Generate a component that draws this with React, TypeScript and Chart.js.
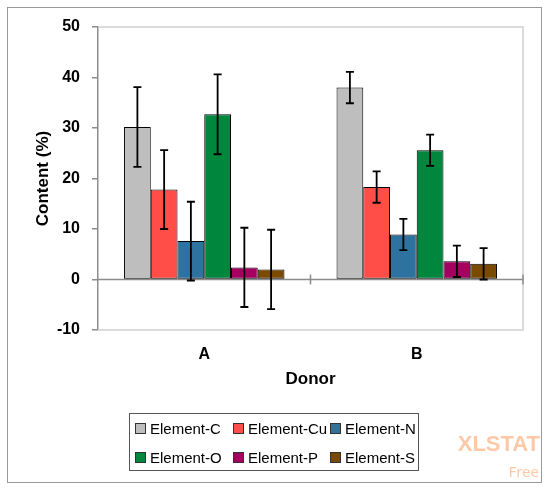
import { useEffect, useRef } from 'react';
import { Chart, registerables } from 'chart.js';

Chart.register(...registerables);

const donors = ['A', 'B'];
const elements = ['Element-C', 'Element-Cu', 'Element-N', 'Element-O', 'Element-P', 'Element-S'];
const colors = ['#BEBEBE', '#FF4D47', '#2E73A0', '#00873E', '#A50061', '#7A4A00'];
// content (%) per element, one value per donor
const contentC = [30.2, 38.0];
const contentCu = [17.8, 18.3];
const contentN = [7.6, 8.9];
const contentO = [32.7, 25.6];
const contentP = [2.4, 3.6];
const contentS = [2.0, 3.1];
// half-length of error bars
const errC = [7.9, 3.1];
const errCu = [7.8, 3.1];
const errN = [7.8, 3.1];
const errO = [7.9, 3.1];
const errP = [7.85, 3.1];
const errS = [7.85, 3.1];

const values = [contentC, contentCu, contentN, contentO, contentP, contentS];
const errors = [errC, errCu, errN, errO, errP, errS];

const FONT = "'Liberation Sans', Arial, sans-serif";

const framePlugin = {
  id: 'frame',
  beforeDatasetsDraw(chart: any) {
    const { ctx, chartArea: a, scales } = chart;
    ctx.save();
    ctx.strokeStyle = '#d0d0d0';
    ctx.lineWidth = 1.5;
    ctx.beginPath();
    ctx.moveTo(a.left, a.top);
    ctx.lineTo(a.right, a.top);
    ctx.lineTo(a.right, a.bottom);
    ctx.lineTo(a.left, a.bottom);
    ctx.stroke();
    const y0 = scales.y.getPixelForValue(0);
    ctx.strokeStyle = '#8c8c8c';
    ctx.beginPath();
    ctx.moveTo(a.left, y0);
    ctx.lineTo(a.right, y0);
    const step = (a.right - a.left) / donors.length;
    for (let i = 1; i <= donors.length; i++) {
      const x = a.left + step * i;
      ctx.moveTo(x, y0 - 5);
      ctx.lineTo(x, y0 + 5);
    }
    ctx.stroke();
    ctx.restore();
  },
  afterDatasetsDraw(chart: any) {
    const { ctx, scales } = chart;
    ctx.save();
    ctx.strokeStyle = '#000';
    ctx.lineWidth = 1.8;
    chart.data.datasets.forEach((ds: any, di: number) => {
      const meta = chart.getDatasetMeta(di);
      meta.data.forEach((bar: any, i: number) => {
        const v = ds.data[i];
        const e = errors[di][i];
        const yt = scales.y.getPixelForValue(v + e);
        const yb = scales.y.getPixelForValue(v - e);
        const x = bar.x;
        ctx.beginPath();
        ctx.moveTo(x, yt);
        ctx.lineTo(x, yb);
        ctx.moveTo(x - 4, yt);
        ctx.lineTo(x + 4, yt);
        ctx.moveTo(x - 4, yb);
        ctx.lineTo(x + 4, yb);
        ctx.stroke();
      });
    });
    ctx.restore();
  },
};

export default function App() {
  const canvasRef = useRef<HTMLCanvasElement | null>(null);
  const chartRef = useRef<Chart | null>(null);

  useEffect(() => {
    if (!canvasRef.current) return;
    if (chartRef.current) chartRef.current.destroy();

    chartRef.current = new Chart(canvasRef.current, {
      type: 'bar',
      data: {
        labels: donors,
        datasets: elements.map((name, i) => ({
          label: name,
          data: values[i],
          backgroundColor: colors[i],
          borderColor: '#000',
          borderWidth: 1,
          borderSkipped: false,
          categoryPercentage: 0.755,
          barPercentage: 1,
        })),
      },
      options: {
        responsive: false,
        animation: false,
        layout: { padding: { left: 0, right: 27, top: 27, bottom: 100 } },
        plugins: {
          legend: { display: false },
          tooltip: { enabled: false },
        },
        scales: {
          x: {
            afterFit: (scale: any) => {
              scale.height = 60;
            },
            grid: { display: false, tickLength: 8 },
            border: { display: false },
            ticks: { color: '#000', font: { family: FONT, size: 16, weight: 'bold' }, padding: 7 },
            title: {
              display: true,
              text: 'Donor',
              color: '#000',
              font: { family: FONT, size: 17, weight: 'bold' },
              padding: { top: 0, bottom: 0 },
            },
          },
          y: {
            min: -10,
            max: 50,
            afterFit: (scale: any) => {
              scale.width = 98;
            },
            ticks: {
              stepSize: 10,
              color: '#000',
              font: { family: FONT, size: 16, weight: 'bold' },
              padding: 12,
            },
            grid: {
              drawOnChartArea: false,
              tickLength: 6,
              tickColor: '#8c8c8c',
              lineWidth: 1.5,
            },
            border: { display: true, color: '#8c8c8c', width: 1.5 },
            title: {
              display: true,
              text: 'Content (%)',
              color: '#000',
              font: { family: FONT, size: 17, weight: 'bold' },
              padding: { top: 33, bottom: 0 },
            },
          },
        },
      },
      plugins: [framePlugin],
    });

    return () => {
      if (chartRef.current) {
        chartRef.current.destroy();
        chartRef.current = null;
      }
    };
  }, []);

  return (
    <div style={{ position: 'absolute', left: 0, top: 0, width: 550, height: 490, background: '#fff', fontFamily: FONT }}>
      <div style={{ position: 'absolute', left: 7, top: 7, width: 533, height: 474, border: '1.5px solid #999' }} />
      <canvas ref={canvasRef} width={550} height={490} style={{ position: 'absolute', left: 0, top: 0 }} />
      <div
        style={{
          position: 'absolute',
          left: 129,
          top: 413,
          width: 290,
          height: 58,
          border: '1px solid #555',
          display: 'grid',
          gridTemplateColumns: '98px 97px 95px',
          gridTemplateRows: '29px 29px',
          paddingLeft: 5,
          boxSizing: 'border-box',
          alignItems: 'center',
          fontSize: 15,
          color: '#000',
        }}
      >
        {elements.map((name, i) => (
          <div key={name} style={{ display: 'flex', alignItems: 'center', whiteSpace: 'nowrap' }}>
            <span
              style={{
                display: 'inline-block',
                width: 9,
                height: 9,
                background: colors[i],
                border: '1.5px solid #333',
                marginRight: 4,
              }}
            />
            {name}
          </div>
        ))}
      </div>
      <div style={{ position: 'absolute', right: 10, top: 433, color: '#FFC9A8', fontWeight: 'bold', fontSize: 22, lineHeight: '22px' }}>
        XLSTAT
      </div>
      <div style={{ position: 'absolute', right: 11, top: 462, color: '#FFC9A8', fontSize: 15, lineHeight: '18px', fontFamily: "'Noto Sans', sans-serif" }}>
        Free
      </div>
    </div>
  );
}
